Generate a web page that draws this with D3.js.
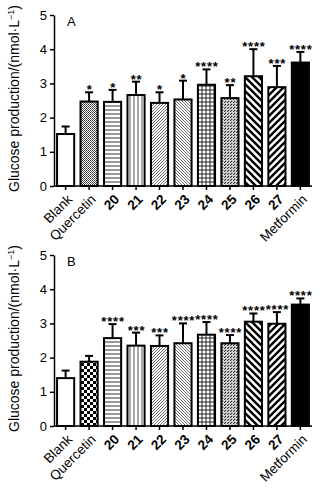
<!DOCTYPE html>
<html lang="en">
<head>
    <meta charset="UTF-8">
    <title>Glucose production</title>
    <script src="https://d3js.org/d3.v7.min.js"></script>
    <style>
        body {
            margin: 0;
            background: #fff;
            font-family: "Liberation Sans", Arial, sans-serif;
        }
        .axis path, .axis line {
            stroke: #000;
            stroke-width: 1.5;
        }
        .axis text {
            font-family: "Liberation Sans", Arial, sans-serif;
            fill: #000;
        }
    </style>
</head>
<body>
    <svg id="chart" width="334" height="489"></svg>

    <script>
        const categories = ["Blank", "Quercetin", "20", "21", "22", "23", "24", "25", "26", "27", "Metformin"];
        const yTicks = [0, 1, 2, 3, 4, 5];

        // panel A
        const meanA = [1.52, 2.47, 2.46, 2.66, 2.43, 2.53, 2.96, 2.57, 3.21, 2.89, 3.61];
        const sdA = [0.22, 0.27, 0.35, 0.39, 0.31, 0.55, 0.45, 0.38, 0.79, 0.62, 0.31];
        const starsA = ["", "*", "*", "**", "*", "*", "****", "**", "****", "***", "****"];

        // panel B
        const meanB = [1.40, 1.88, 2.57, 2.35, 2.34, 2.42, 2.67, 2.42, 3.05, 2.99, 3.55];
        const sdB = [0.22, 0.17, 0.41, 0.38, 0.31, 0.58, 0.37, 0.24, 0.24, 0.34, 0.18];
        const starsB = ["", "", "****", "***", "***", "****", "****", "****", "****", "****", "****"];

        const svg = d3.select("#chart");
        const defs = svg.append("defs");

        function pattern(id, w, h, draw) {
            const p = defs.append("pattern")
                .attr("id", id)
                .attr("patternUnits", "userSpaceOnUse")
                .attr("width", w)
                .attr("height", h);
            p.append("rect").attr("width", w).attr("height", h).attr("fill", "#fff");
            draw(p);
        }

        // fine grey cross-hatch (Quercetin, A)
        pattern("pQa", 2, 2, p => {
            p.append("rect").attr("width", 1).attr("height", 1).attr("fill", "#333");
            p.append("rect").attr("x", 1).attr("y", 1).attr("width", 1).attr("height", 1).attr("fill", "#555");
        });
        // coarse checker (Quercetin, B)
        pattern("pQb", 6, 6, p => {
            p.append("rect").attr("width", 3).attr("height", 3).attr("fill", "#000");
            p.append("rect").attr("x", 3).attr("y", 3).attr("width", 3).attr("height", 3).attr("fill", "#000");
        });
        pattern("pH", 4, 4, p => {
            p.append("line").attr("x1", 0).attr("x2", 4).attr("y1", 2).attr("y2", 2)
                .attr("stroke", "#333").attr("stroke-width", 1);
        });
        pattern("pV", 4, 4, p => {
            p.append("line").attr("x1", 2).attr("x2", 2).attr("y1", 0).attr("y2", 4)
                .attr("stroke", "#555").attr("stroke-width", 1);
        });
        pattern("pD1", 3, 3, p => {
            p.append("path").attr("d", "M0,3 L3,0 M-1,1 L1,-1 M2,4 L4,2")
                .attr("stroke", "#444").attr("stroke-width", 0.8);
        });
        pattern("pD2", 3, 3, p => {
            p.append("path").attr("d", "M0,0 L3,3 M-1,2 L1,4 M2,-1 L4,1")
                .attr("stroke", "#444").attr("stroke-width", 0.8);
        });
        pattern("pGrid", 4, 4, p => {
            p.append("path").attr("d", "M0,2 H4 M2,0 V4")
                .attr("stroke", "#222").attr("stroke-width", 1);
        });
        pattern("pD3", 3, 3, p => {
            p.append("path").attr("d", "M0,3 L3,0 M-1,1 L1,-1 M2,4 L4,2")
                .attr("stroke", "#222").attr("stroke-width", 1.2).attr("stroke-dasharray", "2,1");
        });
        pattern("pT1", 7, 7, p => {
            p.append("path").attr("d", "M0,0 L7,7 M-2,5 L2,9 M5,-2 L9,2")
                .attr("stroke", "#000").attr("stroke-width", 2.4);
        });
        pattern("pT2", 7, 7, p => {
            p.append("path").attr("d", "M0,7 L7,0 M-2,2 L2,-2 M5,9 L9,5")
                .attr("stroke", "#000").attr("stroke-width", 2.4);
        });

        const fillsA = ["#fff", "url(#pQa)", "url(#pH)", "url(#pV)", "url(#pD1)", "url(#pD2)",
            "url(#pGrid)", "url(#pD3)", "url(#pT1)", "url(#pT2)", "#000"];
        const fillsB = fillsA.slice();
        fillsB[1] = "url(#pQb)";

        const x = d3.scaleBand()
            .domain(categories)
            .range([54, 312])
            .paddingInner(0.27)
            .paddingOuter(0.13);

        function drawPanel(letter, yTop, yZero, means, sds, stars, fills) {
            const y = d3.scaleLinear().domain([0, 5]).range([yZero, yTop]);
            const g = svg.append("g");

            // bars
            g.selectAll(".bar")
                .data(categories)
                .enter()
                .append("rect")
                .attr("x", d => x(d))
                .attr("y", (d, i) => y(means[i]))
                .attr("width", x.bandwidth())
                .attr("height", (d, i) => yZero - y(means[i]))
                .attr("fill", (d, i) => fills[i])
                .attr("stroke", "#000")
                .attr("stroke-width", 2);

            // error bars (upper only)
            categories.forEach((c, i) => {
                const cx = x(c) + x.bandwidth() / 2;
                const top = y(means[i] + sds[i]);
                g.append("line")
                    .attr("x1", cx).attr("x2", cx)
                    .attr("y1", y(means[i])).attr("y2", top)
                    .attr("stroke", "#000").attr("stroke-width", 2);
                g.append("line")
                    .attr("x1", cx - 4).attr("x2", cx + 4)
                    .attr("y1", top).attr("y2", top)
                    .attr("stroke", "#000").attr("stroke-width", 2);
                if (stars[i]) {
                    g.append("text")
                        .attr("x", cx + 0.5)
                        .attr("y", top + 2)
                        .attr("text-anchor", "middle")
                        .attr("font-size", 13)
                        .attr("font-weight", "bold")
                        .attr("letter-spacing", 0.8)
                        .text(stars[i]);
                }
            });

            // y axis
            g.append("g")
                .attr("class", "axis")
                .attr("transform", "translate(54,0)")
                .call(d3.axisLeft(y).tickValues(yTicks).tickFormat(d3.format("d"))
                    .tickSize(4).tickSizeOuter(0).tickPadding(3))
                .selectAll("text")
                .attr("font-size", 13);

            // x axis
            const xa = g.append("g")
                .attr("class", "axis")
                .attr("transform", `translate(0,${yZero})`)
                .call(d3.axisBottom(x).tickSize(4).tickSizeOuter(0));
            xa.select(".domain").attr("d", `M54,0H312`);
            xa.selectAll("text")
                .attr("font-size", 13.5)
                .attr("font-weight", d => /^\d+$/.test(d) ? "bold" : "normal")
                .attr("text-anchor", "end")
                .attr("dy", "0.35em")
                .attr("transform", "translate(7,8) rotate(-45)")
                .attr("y", 0)
                .attr("x", -4);

            // y label
            const lab = g.append("text")
                .attr("transform", `translate(19,${(yTop + yZero) / 2 - 2}) rotate(-90)`)
                .attr("text-anchor", "middle")
                .attr("font-size", 14);
            lab.append("tspan").text("Glucose production/(nmol·L");
            lab.append("tspan").attr("font-size", 9).attr("dy", -5).text("−1");
            lab.append("tspan").attr("dy", 5).text(")");

            // panel letter
            g.append("text")
                .attr("x", 67)
                .attr("y", yTop + 11)
                .attr("font-size", 13)
                .text(letter);
        }

        drawPanel("A", 15, 186, meanA, sdA, starsA, fillsA);
        drawPanel("B", 255, 426, meanB, sdB, starsB, fillsB);
    </script>
</body>
</html>
